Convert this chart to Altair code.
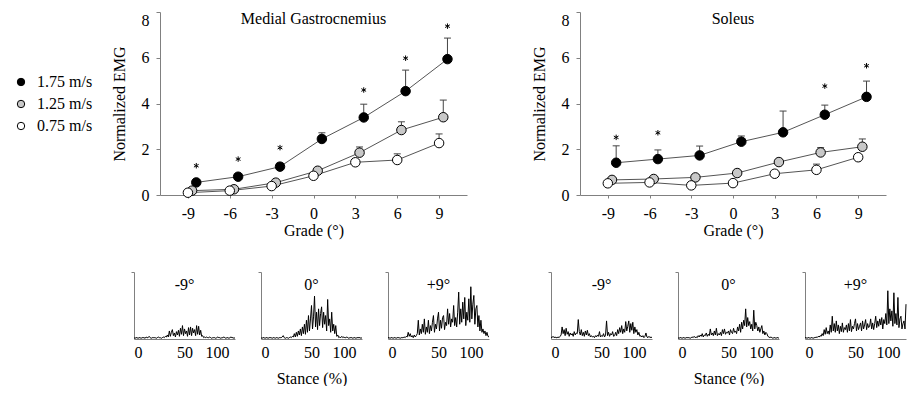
import altair as alt
import pandas as pd

FONT = "Liberation Serif"

# ---------------- data ----------------
grades = [-9, -6, -3, 0, 3, 6, 9]
speeds = ["1.75 m/s", "1.25 m/s", "0.75 m/s"]
speed_offsets = [0.6, 0.3, 0.0]
speed_fills = ["black", "#c8c8c8", "white"]

# Medial gastrocnemius: mean and SD per speed (fast, mid, slow)
mg_fast = [0.55, 0.80, 1.24, 2.45, 3.39, 4.54, 5.94]
mg_fast_sd = [0.10, 0.12, 0.15, 0.27, 0.58, 0.92, 0.92]
mg_mid = [0.19, 0.25, 0.54, 1.06, 1.85, 2.84, 3.40]
mg_mid_sd = [0.05, 0.05, 0.08, 0.12, 0.25, 0.36, 0.75]
mg_slow = [0.10, 0.19, 0.39, 0.84, 1.43, 1.53, 2.27]
mg_slow_sd = [0.03, 0.03, 0.05, 0.08, 0.12, 0.27, 0.40]
mg_star_grades = [-9, -6, -3, 3, 6, 9]
mg_star_y = [1.28, 1.57, 2.07, 4.59, 5.98, 7.38]

# Soleus
sol_fast = [1.41, 1.57, 1.73, 2.33, 2.74, 3.51, 4.29]
sol_fast_sd = [0.74, 0.40, 0.41, 0.25, 0.93, 0.42, 0.69]
sol_mid = [0.66, 0.70, 0.77, 0.96, 1.44, 1.86, 2.11]
sol_mid_sd = [0.05, 0.05, 0.08, 0.10, 0.12, 0.21, 0.34]
sol_slow = [0.51, 0.55, 0.42, 0.52, 0.93, 1.10, 1.65]
sol_slow_sd = [0.05, 0.05, 0.05, 0.08, 0.12, 0.25, 0.10]
sol_star_grades = [-9, -6, 6, 9]
sol_star_y = [2.52, 2.72, 4.76, 5.65]

panel_titles = ["Medial Gastrocnemius", "Soleus"]
trace_titles = ["-9°", "0°", "+9°"]

# Raw EMG traces (fraction of panel height), stance 0..100 %
stance = list(range(101))
mg_m9 = [0.02, 0.01, 0.02, 0.02, 0.01, 0.02, 0.02, 0.01, 0.02, 0.02,
         0.02, 0.01, 0.03, 0.02, 0.02, 0.04, 0.02, 0.01, 0.02, 0.02,
         0.02, 0.02, 0.01, 0.02, 0.03, 0.02, 0.02, 0.01, 0.02, 0.03,
         0.02, 0.04, 0.03, 0.06, 0.03, 0.12, 0.04, 0.10, 0.14, 0.05,
         0.09, 0.03, 0.11, 0.06, 0.13, 0.04, 0.16, 0.07, 0.20, 0.05,
         0.15, 0.08, 0.12, 0.04, 0.17, 0.06, 0.18, 0.05, 0.16, 0.09,
         0.14, 0.05, 0.20, 0.07, 0.19, 0.06, 0.13, 0.04, 0.05, 0.02,
         0.03, 0.02, 0.03, 0.02, 0.02, 0.03, 0.02, 0.01, 0.02, 0.02,
         0.02, 0.01, 0.02, 0.03, 0.02, 0.02, 0.01, 0.02, 0.02, 0.03,
         0.02, 0.01, 0.02, 0.02, 0.01, 0.02, 0.03, 0.02, 0.02, 0.01, 0.02]
mg_0 = [0.02, 0.01, 0.02, 0.02, 0.01, 0.02, 0.02, 0.01, 0.02, 0.02,
        0.02, 0.01, 0.02, 0.02, 0.01, 0.02, 0.02, 0.01, 0.02, 0.02,
        0.02, 0.03, 0.05, 0.02, 0.01, 0.02, 0.02, 0.01, 0.02, 0.03,
        0.02, 0.04, 0.03, 0.08, 0.03, 0.10, 0.04, 0.12, 0.06, 0.15,
        0.05, 0.18, 0.08, 0.22, 0.07, 0.28, 0.10, 0.35, 0.12, 0.30,
        0.50, 0.15, 0.33, 0.64, 0.18, 0.40, 0.14, 0.45, 0.20, 0.38,
        0.48, 0.17, 0.40, 0.22, 0.35, 0.12, 0.59, 0.20, 0.30, 0.10,
        0.40, 0.12, 0.22, 0.08, 0.20, 0.04, 0.06, 0.02, 0.03, 0.02,
        0.04, 0.02, 0.03, 0.02, 0.02, 0.03, 0.02, 0.01, 0.02, 0.02,
        0.02, 0.01, 0.02, 0.02, 0.01, 0.02, 0.02, 0.02, 0.02, 0.01, 0.02]
mg_p9 = [0.02, 0.02, 0.01, 0.02, 0.02, 0.01, 0.02, 0.02, 0.01, 0.02,
         0.02, 0.02, 0.01, 0.02, 0.02, 0.02, 0.03, 0.02, 0.04, 0.03,
         0.10, 0.04, 0.08, 0.03, 0.05, 0.02, 0.06, 0.03, 0.05, 0.08,
         0.28, 0.06, 0.15, 0.08, 0.22, 0.10, 0.30, 0.07, 0.18, 0.10,
         0.28, 0.08, 0.20, 0.12, 0.25, 0.35, 0.10, 0.22, 0.15, 0.30,
         0.40, 0.12, 0.28, 0.16, 0.32, 0.35, 0.14, 0.25, 0.20, 0.45,
         0.22, 0.38, 0.18, 0.30, 0.25, 0.50, 0.20, 0.32, 0.18, 0.40,
         0.70, 0.22, 0.45, 0.25, 0.55, 0.30, 0.62, 0.20, 0.40, 0.28,
         0.60, 0.25, 0.78, 0.30, 0.52, 0.65, 0.22, 0.45, 0.50, 0.18,
         0.35, 0.12, 0.28, 0.10, 0.15, 0.08, 0.12, 0.05, 0.10, 0.04, 0.03]
sol_m9 = [0.03, 0.02, 0.04, 0.02, 0.03, 0.02, 0.02, 0.03, 0.02, 0.04,
          0.06, 0.18, 0.08, 0.14, 0.05, 0.16, 0.07, 0.11, 0.04, 0.09,
          0.06, 0.08, 0.04, 0.11, 0.06, 0.09, 0.08, 0.29, 0.11, 0.06,
          0.14, 0.05, 0.10, 0.04, 0.12, 0.06, 0.13, 0.05, 0.08, 0.03,
          0.05, 0.03, 0.04, 0.02, 0.05, 0.03, 0.06, 0.04, 0.11, 0.03,
          0.05, 0.04, 0.08, 0.03, 0.06, 0.27, 0.05, 0.10, 0.04, 0.08,
          0.06, 0.11, 0.04, 0.05, 0.10, 0.05, 0.14, 0.08, 0.17, 0.10,
          0.20, 0.08, 0.15, 0.10, 0.26, 0.12, 0.19, 0.27, 0.10, 0.23,
          0.13, 0.25, 0.08, 0.18, 0.10, 0.14, 0.06, 0.10, 0.04, 0.05,
          0.03, 0.05, 0.02, 0.04, 0.09, 0.03, 0.02, 0.04, 0.02, 0.03, 0.02]
sol_0 = [0.02, 0.01, 0.02, 0.02, 0.01, 0.02, 0.02, 0.01, 0.02, 0.02,
         0.02, 0.02, 0.01, 0.02, 0.03, 0.02, 0.04, 0.02, 0.03, 0.02,
         0.05, 0.03, 0.06, 0.04, 0.08, 0.03, 0.06, 0.05, 0.09, 0.04,
         0.07, 0.05, 0.15, 0.06, 0.09, 0.05, 0.12, 0.06, 0.16, 0.05,
         0.08, 0.06, 0.10, 0.05, 0.14, 0.08, 0.15, 0.07, 0.10, 0.09,
         0.12, 0.06, 0.14, 0.10, 0.08, 0.16, 0.10, 0.12, 0.08, 0.18,
         0.12, 0.22, 0.10, 0.25, 0.15, 0.28, 0.20, 0.45, 0.18, 0.32,
         0.20, 0.26, 0.15, 0.22, 0.12, 0.43, 0.15, 0.25, 0.20, 0.12,
         0.18, 0.10, 0.15, 0.20, 0.08, 0.12, 0.06, 0.10, 0.08, 0.04,
         0.03, 0.02, 0.03, 0.02, 0.01, 0.02, 0.02, 0.01, 0.02, 0.02, 0.01]
sol_p9 = [0.02, 0.02, 0.01, 0.02, 0.02, 0.01, 0.02, 0.02, 0.01, 0.02,
          0.02, 0.03, 0.02, 0.04, 0.03, 0.05, 0.04, 0.08, 0.05, 0.14,
          0.07, 0.17, 0.08, 0.12, 0.07, 0.21, 0.10, 0.34, 0.12, 0.23,
          0.10, 0.27, 0.12, 0.21, 0.08, 0.19, 0.11, 0.24, 0.10, 0.17,
          0.14, 0.21, 0.10, 0.23, 0.12, 0.29, 0.11, 0.19, 0.15, 0.23,
          0.30, 0.12, 0.23, 0.14, 0.19, 0.24, 0.12, 0.27, 0.15, 0.21,
          0.29, 0.14, 0.23, 0.17, 0.19, 0.30, 0.15, 0.24, 0.14, 0.23,
          0.34, 0.17, 0.27, 0.19, 0.30, 0.21, 0.32, 0.15, 0.29, 0.23,
          0.38, 0.21, 0.72, 0.23, 0.45, 0.27, 0.42, 0.19, 0.69, 0.23,
          0.38, 0.21, 0.62, 0.17, 0.30, 0.34, 0.15, 0.23, 0.27, 0.15, 0.52]

# ---------------- helpers ----------------
STAR = "M0,-1L0,1M-0.866,-0.5L0.866,0.5M-0.866,0.5L0.866,-0.5"
AXIS_GREY = "#808080"
TOP_H, BOT_H = 183, 67
AX_FONT = dict(labelFont=FONT, titleFont=FONT, labelFontSize=16, titleFontSize=16,
               titleFontWeight="normal", labelColor="black", titleColor="black",
               domainColor=AXIS_GREY, tickColor=AXIS_GREY)


def grade_table(series):
    rows = []
    for spd, off, (means, sds) in zip(speeds, speed_offsets, series):
        for g, m, s in zip(grades, means, sds):
            rows.append({"speed": spd, "x": g + off, "y": m, "top": m + s})
    return pd.DataFrame(rows)


def grade_panel(title, series, star_g, star_y, legend, width):
    df = grade_table(series)
    star_df = pd.DataFrame({"x": [g + speed_offsets[0] for g in star_g], "y": star_y})
    title_df = pd.DataFrame({"x": [0], "y": [8], "t": [title]})
    xs = alt.X("x:Q", scale=alt.Scale(domain=[-11, 11], nice=False, zero=False),
               axis=alt.Axis(values=grades, title="Grade (°)", tickSize=3,
                             labelPadding=7, titlePadding=1,
                             labelExpr="'' + datum.value", **AX_FONT))
    ys = alt.Y("y:Q", scale=alt.Scale(domain=[0, 8], nice=False),
               axis=alt.Axis(values=[0, 2, 4, 6, 8], title="Normalized EMG",
                             tickSize=4, labelPadding=7, titlePadding=14,
                             labelBaseline={"condition": {"test": "datum.value == 8", "value": "top"},
                                            "value": "middle"}, **AX_FONT))
    base = alt.Chart(df)
    lines = base.mark_line(color="#555555", strokeWidth=1).encode(
        x=xs, y=ys, detail="speed:N", order="x:Q")
    err = base.mark_rule(color="#444444", strokeWidth=1).encode(x="x:Q", y="y:Q", y2="top:Q")
    caps = base.mark_tick(orient="horizontal", size=7, thickness=1, color="#444444",
                          opacity=1).encode(x="x:Q", y="top:Q")
    if legend:
        leg = alt.Legend(orient="none", legendX=-147, legendY=62, title=None,
                         symbolType="circle", symbolSize=55, symbolStrokeColor="black",
                         symbolStrokeWidth=1, symbolOpacity=1, labelFont=FONT,
                         labelFontSize=16, labelColor="black", labelOffset=8,
                         rowPadding=6, padding=0)
    else:
        leg = None
    pts = base.mark_point(shape="circle", filled=True, size=90, stroke="black",
                          strokeWidth=1, opacity=1).encode(
        x="x:Q", y="y:Q",
        fill=alt.Fill("speed:N", scale=alt.Scale(domain=speeds, range=speed_fills),
                      legend=leg))
    stars = alt.Chart(star_df).mark_point(shape=STAR, size=30, color="black",
                                          strokeWidth=1, filled=False, opacity=1).encode(
        x="x:Q", y="y:Q")
    label = alt.Chart(title_df).mark_text(baseline="alphabetic", dy=12, fontSize=16,
                                          font=FONT, color="black").encode(
        x="x:Q", y="y:Q", text="t:N")
    return alt.layer(lines, err, caps, pts, stars, label).properties(width=width, height=TOP_H)


def emg_panel(label, values, xtitle):
    df = pd.DataFrame({"stance": stance, "emg": values})
    title_df = pd.DataFrame({"x": [50], "y": [1], "t": [label]})
    xaxis_kw = dict(values=[0, 50, 100], ticks=False, tickSize=0, labelPadding=5,
                    titlePadding=10,
                    labelOffset={"condition": {"test": "datum.value == 100", "value": -6},
                                 "value": 0}, **AX_FONT)
    xaxis_kw["title"] = "Stance (%)" if xtitle else ""
    trace = alt.Chart(df).mark_line(color="black", strokeWidth=1).encode(
        x=alt.X("stance:Q", scale=alt.Scale(domain=[0, 100], nice=False),
                axis=alt.Axis(**xaxis_kw)),
        y=alt.Y("emg:Q", scale=alt.Scale(domain=[0, 1], nice=False),
                axis=alt.Axis(values=[1], labels=False, title="", tickSize=3,
                              domainColor=AXIS_GREY, tickColor=AXIS_GREY)),
    )
    text = alt.Chart(title_df).mark_text(baseline="alphabetic", dy=18, fontSize=16,
                                         font=FONT, color="black").encode(
        x="x:Q", y="y:Q", text="t:N")
    return alt.layer(trace, text).properties(width=101, height=BOT_H)


def spacer(w, h):
    return alt.Chart(pd.DataFrame({"v": [0]})).mark_point(opacity=0).encode(
        x=alt.X("v:Q", axis=None), y=alt.Y("v:Q", axis=None)).properties(width=w, height=h)


mg = grade_panel(panel_titles[0],
                 [(mg_fast, mg_fast_sd), (mg_mid, mg_mid_sd), (mg_slow, mg_slow_sd)],
                 mg_star_grades, mg_star_y, True, 307)
sol = grade_panel(panel_titles[1],
                  [(sol_fast, sol_fast_sd), (sol_mid, sol_mid_sd), (sol_slow, sol_slow_sd)],
                  sol_star_grades, sol_star_y, False, 306)

top = alt.hconcat(spacer(13, TOP_H), mg, spacer(87, TOP_H), sol,
                  spacing=13, bounds="flush").resolve_scale(fill="independent")
bottom = alt.hconcat(
    emg_panel(trace_titles[0], mg_m9, False),
    emg_panel(trace_titles[1], mg_0, True),
    emg_panel(trace_titles[2], mg_p9, False),
    spacer(10, BOT_H),
    emg_panel(trace_titles[0], sol_m9, False),
    emg_panel(trace_titles[1], sol_0, True),
    emg_panel(trace_titles[2], sol_p9, False),
    spacing=26, bounds="flush")

chart = alt.vconcat(top, bottom, spacing=33).resolve_scale(
    fill="independent").properties(
    padding={"left": 5, "top": 3, "right": 0, "bottom": 0}
).configure(font=FONT).configure_axis(
    labelFont=FONT, titleFont=FONT, labelFontSize=16, titleFontSize=16,
    titleFontWeight="normal", labelColor="black", titleColor="black",
    domainColor=AXIS_GREY, tickColor=AXIS_GREY, grid=False
).configure_view(strokeWidth=0)

chart.save("out.html", embed_options={"renderer": "svg", "actions": False})
